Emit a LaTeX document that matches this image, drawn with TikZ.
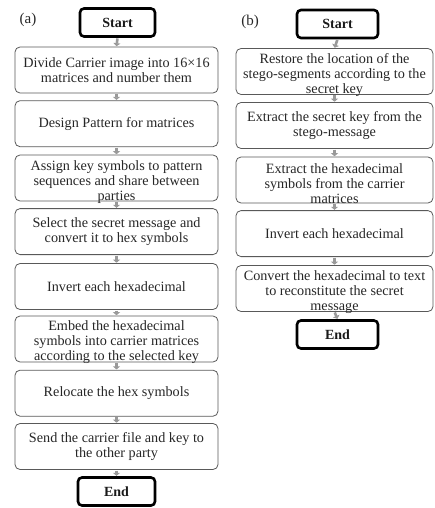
\documentclass[tikz,border=0pt]{standalone}
\usepackage{fontspec}
\setmainfont{Liberation Serif}
\usetikzlibrary{arrows.meta}
\begin{document}
\begin{tikzpicture}[x=1pt,y=-1pt,
  boxtext/.style={inner xsep=1pt, inner ysep=0pt, align=center,
    text=black!85, font=\fontsize{14.2}{15}\selectfont},
  stepbox/.style={boxtext, draw=black!65, line width=0.8pt, rounded corners=5pt,
    minimum height=46pt},
  leftbox/.style={stepbox, minimum width=203pt},
  rightbox/.style={stepbox, minimum width=197pt},
  termbox/.style={draw=black, line width=2.6pt, rounded corners=4pt,
    minimum height=28pt, inner sep=0pt, text=black!90,
    font=\fontsize{14}{16}\selectfont\bfseries},
  flow/.style={draw=black!40, line width=2.6pt,
    -{Triangle[width=7pt,length=3pt]}, shorten <=0.6pt, shorten >=0.4pt},
  tag/.style={font=\fontsize{15}{17}\selectfont, text=black!85}
]
\useasboundingbox (0,0) rectangle (435,508);

% (a) embedding
\node[tag] (taga) at (28,20) {(a)};
\node[termbox, minimum width=75pt] (sa) at (117.5,22.5) {Start};
\node[leftbox] (a1) at (116.5,70) {Divide Carrier image into 16×16\\matrices and number them};
\node[leftbox] (a2) at (116.5,123.7) {Design Pattern for matrices};
\node[leftbox] (a3) at (116.5,178) {};
\node[boxtext] (a3t) at ([yshift=-4pt]a3.center) {Assign key symbols to pattern\\sequences and share between\\parties};
\node[leftbox] (a4) at (116.5,231.6) {Select the secret message and\\convert it to hex symbols};
\node[leftbox] (a5) at (116.5,286.5) {Invert each hexadecimal};
\node[leftbox] (a6) at (116.5,339) {};
\node[boxtext] (a6t) at ([yshift=-3pt]a6.center) {Embed the hexadecimal\\symbols into carrier matrices\\according to the selected key};
\node[leftbox] (a7) at (116.5,393.2) {Relocate the hex symbols};
\node[leftbox] (a8) at (116.5,446.5) {Send the carrier file and key to\\the other party};
\node[termbox, minimum width=77pt] (ea) at (116.5,491.5) {End};

\foreach \u/\v in {sa/a1,a1/a2,a2/a3,a3/a4,a4/a5,a5/a6,a6/a7,a7/a8,a8/ea}
  \draw[flow] (\u.south) -- (\v.north);

% (b) extraction
\node[tag] (tagb) at (250,22) {(b)};
\node[termbox, minimum width=81pt] (sb) at (337.5,24) {Start};
\node[rightbox] (b1) at (334.5,71.5) {};
\node[boxtext] (b1t) at ([yshift=-4pt]b1.center) {Restore the location of the\\stego-segments according to the\\secret key};
\node[rightbox] (b2) at (334.5,125.5) {Extract the secret key from the\\stego-message};
\node[rightbox] (b3) at (334.5,180) {};
\node[boxtext] (b3t) at ([yshift=-4pt]b3.center) {Extract the hexadecimal\\symbols from the carrier\\matrices};
\node[rightbox] (b4) at (334.5,233.6) {Invert each hexadecimal};
\node[rightbox] (b5) at (334.5,288.5) {};
\node[boxtext] (b5t) at ([yshift=-4pt]b5.center) {Convert the hexadecimal to text\\to reconstitute the secret\\message};
\node[termbox, minimum width=81pt] (eb) at (337.5,334.5) {End};

\foreach \u/\v in {sb/b1,b1/b2,b2/b3,b3/b4,b4/b5,b5/eb}
  \draw[flow] (\u.south) -- (\v.north);
\end{tikzpicture}
\end{document}
